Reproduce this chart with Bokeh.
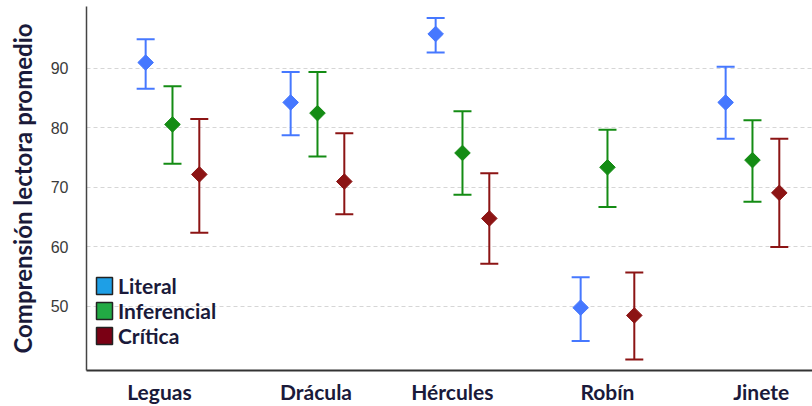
import numpy as np
from bokeh.plotting import figure
from bokeh.models import (ColumnDataSource, Whisker, TeeHead, FixedTicker, Range1d,
                          Legend, LegendItem)
from bokeh.embed import file_html
from bokeh.resources import INLINE

categories = ["Leguas", "Drácula", "Hércules", "Robín", "Jinete"]
series_names = ["Literal", "Inferencial", "Crítica"]

literal_mean = [91.0, 84.3, 95.8, 49.8, 84.3]
literal_low = [86.6, 78.8, 92.7, 44.2, 78.2]
literal_high = [94.9, 89.4, 98.5, 54.9, 90.3]

inferencial_mean = [80.6, 82.5, 75.8, 73.4, 74.6]
inferencial_low = [74.0, 75.2, 68.8, 66.7, 67.6]
inferencial_high = [87.0, 89.4, 82.8, 79.7, 81.3]

critica_mean = [72.2, 71.0, 64.8, 48.5, 69.1]
critica_low = [62.4, 65.5, 57.2, 41.1, 60.0]
critica_high = [81.5, 79.1, 72.4, 55.7, 78.2]

y_ticks = [50, 60, 70, 80, 90]

# styles
offsets = [-0.185, 0.0, 0.185]
label_shift = [-0.09, -0.01, -0.07, 0.0, 0.06]
mark_colors = ["#4678ff", "#148c14", "#8c1414"]
legend_colors = ["#1e9fe6", "#22aa44", "#7a0014"]
TEXT = "#1a1a3a"
FONT = "Lato"

p = figure(width=812, height=406, output_backend="svg", toolbar_location=None,
           x_range=Range1d(-0.593, 4.414), y_range=Range1d(39.24, 100.42),
           min_border_left=86, min_border_right=0, min_border_top=6, min_border_bottom=0)
p.outline_line_color = None
p.background_fill_color = "white"
p.border_fill_color = "white"

idx = np.arange(len(categories))
means = [literal_mean, inferencial_mean, critica_mean]
lows = [literal_low, inferencial_low, critica_low]
highs = [literal_high, inferencial_high, critica_high]

for k in range(3):
    src = ColumnDataSource(dict(x=idx + offsets[k], m=means[k], lo=lows[k], hi=highs[k]))
    c = mark_colors[k]
    w = Whisker(base="x", lower="lo", upper="hi", source=src, line_color=c, line_width=2,
                upper_head=TeeHead(size=18, line_color=c, line_width=2),
                lower_head=TeeHead(size=18, line_color=c, line_width=2))
    p.add_layout(w)
    p.scatter("x", "m", source=src, marker="square", angle=np.pi / 4, size=11,
              fill_color=c, line_color=c, line_width=1)

# legend swatches (legend-only renderers, nothing drawn in the plot)
items = []
for k in range(3):
    r = p.quad(left=[np.nan], right=[np.nan], top=[np.nan], bottom=[np.nan],
               fill_color=legend_colors[k], line_color="#222222", line_width=1.5)
    items.append(LegendItem(label=series_names[k], renderers=[r]))
legend = Legend(items=items, location=(8, 22), padding=0, margin=0, spacing=0,
                glyph_width=20, glyph_height=21, label_standoff=4, label_height=25,
                label_text_font=FONT, label_text_font_style="bold",
                label_text_font_size="21px", label_text_color=TEXT,
                border_line_color=None, background_fill_alpha=0)
p.add_layout(legend, "center")

# axes
tick_pos = [float(i + s) for i, s in zip(idx, label_shift)]
p.xaxis.ticker = FixedTicker(ticks=tick_pos)
p.xaxis.major_label_overrides = {t: c for t, c in zip(tick_pos, categories)}
p.xaxis.major_label_text_font = FONT
p.xaxis.major_label_text_font_style = "bold"
p.xaxis.major_label_text_font_size = "21px"
p.xaxis.major_label_text_color = TEXT
p.xaxis.major_label_standoff = 8
p.xaxis.major_tick_out = 0
p.xaxis.major_tick_in = 0
p.xaxis.major_tick_line_color = None
p.xaxis.minor_tick_line_color = None
p.xaxis.axis_line_color = "#333333"
p.xaxis.axis_line_width = 2

p.yaxis.ticker = FixedTicker(ticks=y_ticks)
p.yaxis.major_label_text_font = "Liberation Sans"
p.yaxis.major_label_text_font_size = "16px"
p.yaxis.major_label_text_color = "#3a3a3a"
p.yaxis.major_label_standoff = 18
p.yaxis.major_tick_out = 0
p.yaxis.major_tick_in = 0
p.yaxis.major_tick_line_color = None
p.yaxis.minor_tick_line_color = None
p.yaxis.axis_line_color = "#444444"
p.yaxis.axis_line_width = 1.5
p.yaxis.axis_label = "Comprensión lectora promedio"
p.yaxis.axis_label_text_font = FONT
p.yaxis.axis_label_text_font_style = "bold"
p.yaxis.axis_label_text_font_size = "24px"
p.yaxis.axis_label_text_color = TEXT
p.yaxis.axis_label_standoff = 11

p.xgrid.grid_line_color = None
p.ygrid.grid_line_color = "#d6d6d6"
p.ygrid.grid_line_dash = "4 3"
p.ygrid.grid_line_width = 1

open("out.html", "w").write(file_html(p, INLINE))
